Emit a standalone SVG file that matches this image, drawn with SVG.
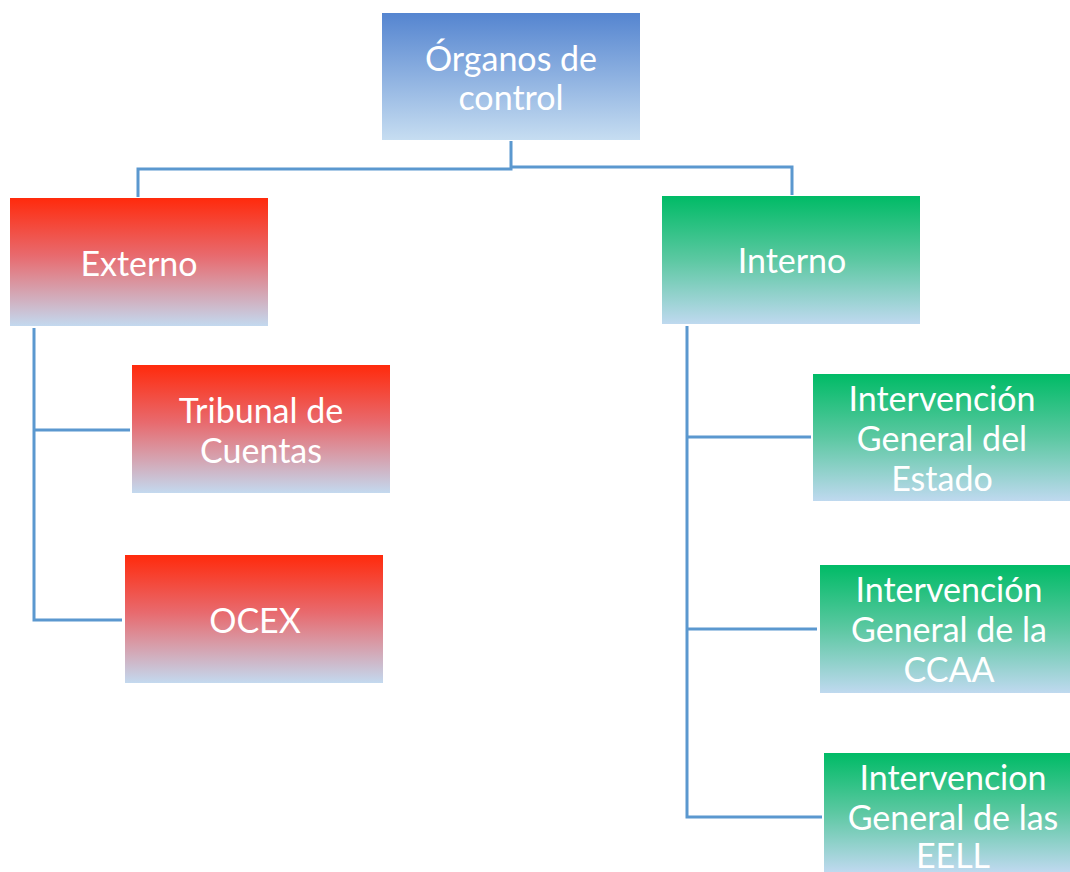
<svg xmlns="http://www.w3.org/2000/svg" width="1070" height="872" viewBox="0 0 1070 872">
<defs>
<linearGradient id="gBlue" x1="0" y1="0" x2="0" y2="1">
<stop offset="0" stop-color="#5585d0"/>
<stop offset="1" stop-color="#c6ddf1"/>
</linearGradient>
<linearGradient id="gRed" x1="0" y1="0" x2="0" y2="1">
<stop offset="0" stop-color="#ff2a0c"/>
<stop offset="0.45" stop-color="#e86a6e"/>
<stop offset="1" stop-color="#c3d9ef"/>
</linearGradient>
<linearGradient id="gGreen" x1="0" y1="0" x2="0" y2="1">
<stop offset="0" stop-color="#00bb66"/>
<stop offset="0.5" stop-color="#5cc8a2"/>
<stop offset="1" stop-color="#bfd9ef"/>
</linearGradient>
</defs>
<style>
text{font-family:Lato,"Open Sans","Liberation Sans",sans-serif;font-size:34px;fill:#ffffff;text-anchor:middle}
.c{fill:none;stroke:#5b98cf;stroke-width:3}
</style>
<g id="connectors">
<polyline class="c" points="511,141 511,169 138,169 138,197"/>
<polyline class="c" points="511,167 792,167 792,195"/>
<polyline class="c" points="34,328 34,620 122,620"/>
<line class="c" x1="34" y1="430" x2="130" y2="430"/>
<polyline class="c" points="687,326 687,817 822,817"/>
<line class="c" x1="687" y1="437" x2="811" y2="437"/>
<line class="c" x1="687" y1="629" x2="817" y2="629"/>
</g>
<g id="organos">
<rect x="382" y="13" width="258" height="127" fill="url(#gBlue)"/>
<text x="511" y="71">Órganos de</text>
<text x="511" y="110">control</text>
</g>
<g id="externo">
<rect x="10" y="198" width="258" height="128" fill="url(#gRed)"/>
<text x="139" y="276">Externo</text>
</g>
<g id="interno">
<rect x="662" y="196" width="258" height="128" fill="url(#gGreen)"/>
<text x="792" y="273">Interno</text>
</g>
<g id="tribunal">
<rect x="132" y="365" width="258" height="128" fill="url(#gRed)"/>
<text x="261" y="423">Tribunal de</text>
<text x="261" y="463">Cuentas</text>
</g>
<g id="ocex">
<rect x="125" y="555" width="258" height="128" fill="url(#gRed)"/>
<text x="255" y="633">OCEX</text>
</g>
<g id="ige">
<rect x="813" y="374" width="258" height="127" fill="url(#gGreen)"/>
<text x="942" y="411">Intervención</text>
<text x="942" y="451">General del</text>
<text x="942" y="491">Estado</text>
</g>
<g id="igccaa">
<rect x="820" y="565" width="252" height="128" fill="url(#gGreen)"/>
<text x="949" y="602">Intervención</text>
<text x="949" y="642">General de la</text>
<text x="949" y="682">CCAA</text>
</g>
<g id="igeell">
<rect x="824" y="753" width="248" height="119" fill="url(#gGreen)"/>
<text x="953" y="790">Intervencion</text>
<text x="953" y="830">General de las</text>
<text x="953" y="868">EELL</text>
</g>
</svg>
